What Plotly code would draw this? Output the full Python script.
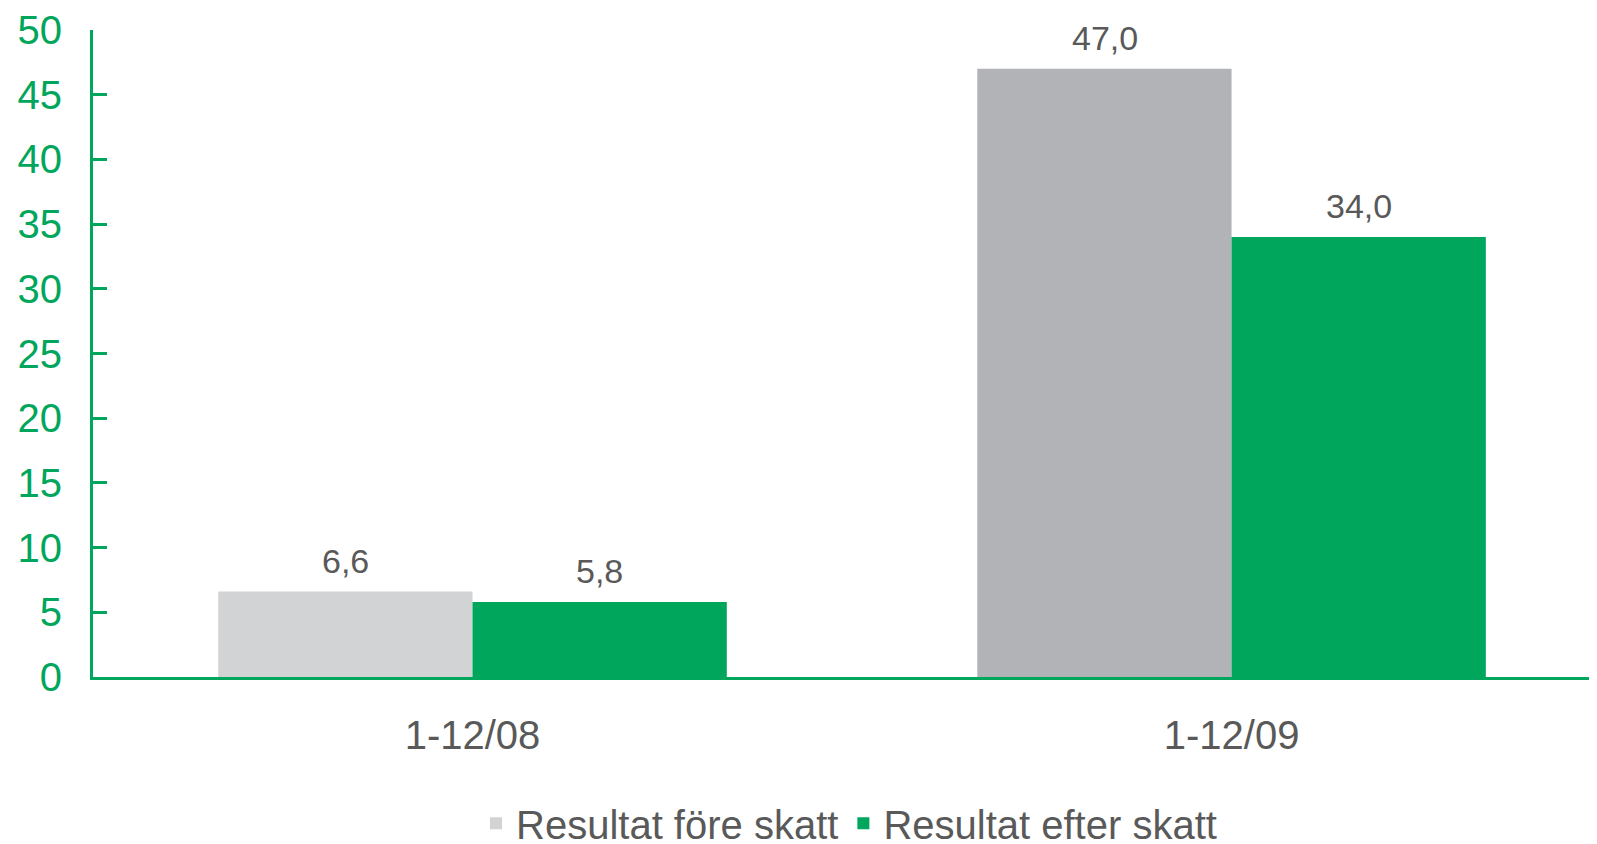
import plotly.graph_objects as go

# Data
periods = ['1-12/08', '1-12/09']
fore_skatt = [6.6, 47.0]
efter_skatt = [5.8, 34.0]
fore_colors = ['#D1D3D4', '#B1B3B6']

GREEN = '#00A65B'
TEXT = '#595959'
FONT = 'Liberation Sans, Arial, sans-serif'

fig = go.Figure()

fig.add_trace(go.Bar(
    x=periods, y=fore_skatt, name='Resultat före skatt',
    marker=dict(color=fore_colors, line=dict(width=0)),
))
fig.add_trace(go.Bar(
    x=periods, y=efter_skatt, name='Resultat efter skatt',
    marker=dict(color=GREEN, line=dict(width=0)),
))

# value labels above each bar (comma decimal)
for vals, shift in ((fore_skatt, -127), (efter_skatt, 127)):
    for p, v in zip(periods, vals):
        fig.add_annotation(
            x=p, y=v, xref='x', yref='y', xshift=shift, yshift=10,
            text=f'{v:.1f}'.replace('.', ','), showarrow=False,
            yanchor='bottom', font=dict(size=34, color=TEXT, family=FONT),
        )

# page body adds an 8px offset, margins compensate for it
fig.update_layout(
    width=1597, height=844,
    margin=dict(l=85, r=0, t=22, b=175, autoexpand=False),
    plot_bgcolor='white', paper_bgcolor='white',
    barmode='group', bargap=0.33, bargroupgap=0,
    font=dict(family=FONT, color=TEXT),
    legend=dict(
        orientation='h', x=0.5, xanchor='center', y=-0.226, yanchor='middle',
        font=dict(size=40, color=TEXT, family=FONT),
        itemclick=False,
    ),
    xaxis=dict(
        range=[-0.5, 1.492], showline=True, linecolor=GREEN, linewidth=3,
        showgrid=False, ticks='', tickfont=dict(size=40, color=TEXT),
        ticklabelstandoff=21, zeroline=False, automargin=False,
    ),
    yaxis=dict(
        range=[0, 50], dtick=5, showline=True, linecolor=GREEN, linewidth=3,
        showgrid=False, zeroline=False, ticks='inside', ticklen=14,
        tickwidth=3, tickcolor=GREEN, tickfont=dict(size=40, color=GREEN),
        ticklabelstandoff=20, automargin=False,
    ),
)

fig.write_html('out.html')
